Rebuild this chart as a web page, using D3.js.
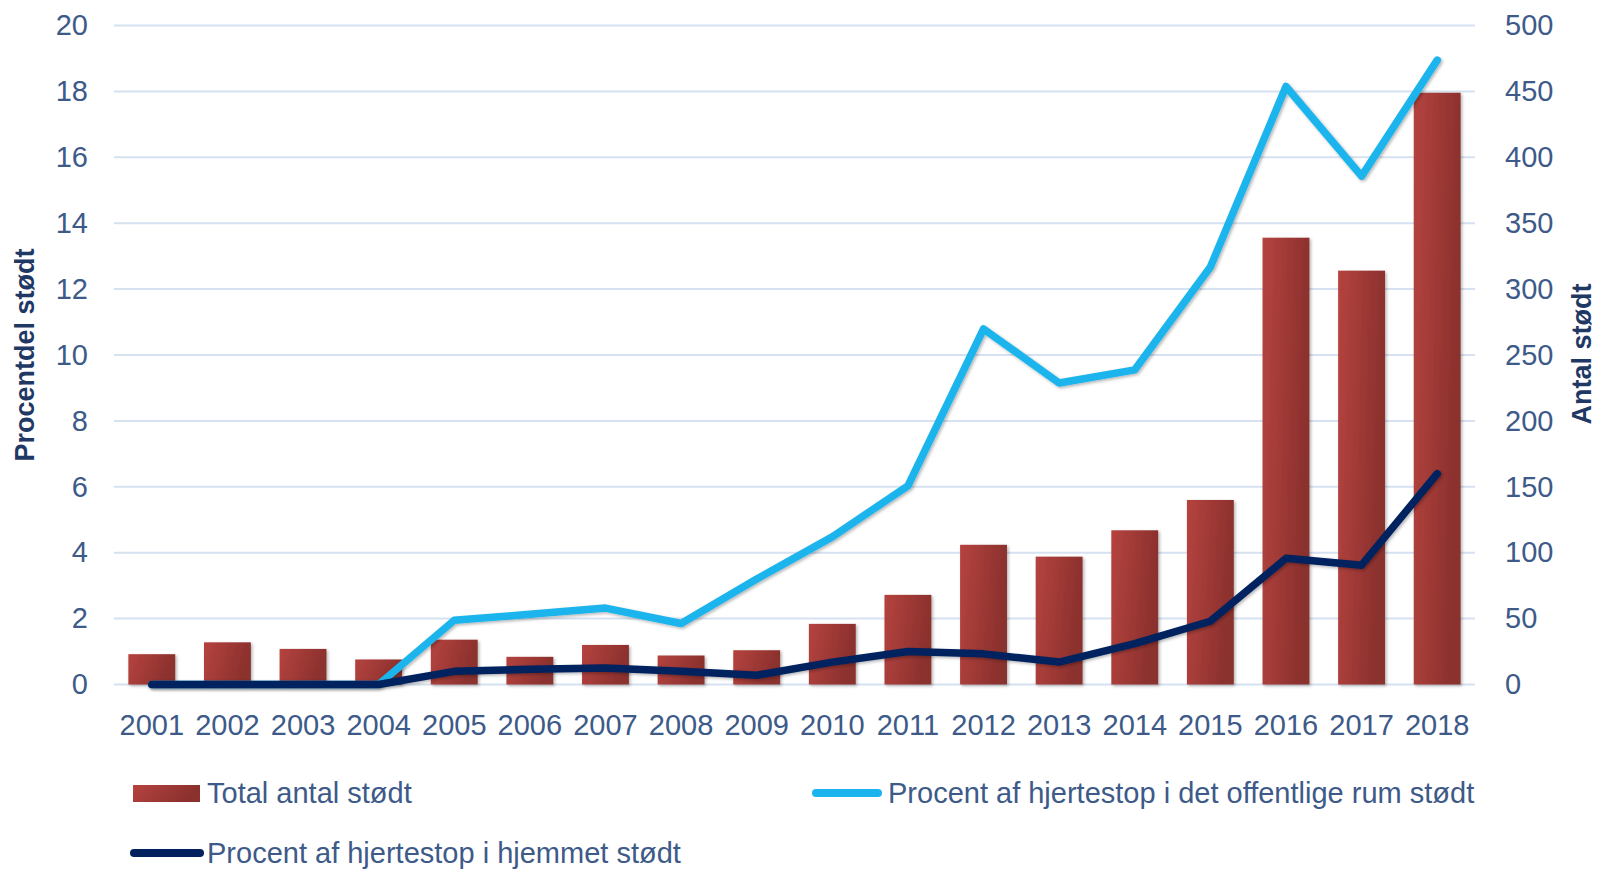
<!DOCTYPE html>
<html>
<head>
<meta charset="utf-8">
<script src="https://cdn.jsdelivr.net/npm/d3@7"></script>
<style>
  body { margin: 0; background: #fff; }
  svg text { font-family: "Liberation Sans", Arial, sans-serif; }
</style>
</head>
<body>
<svg id="chart" width="1597" height="869"></svg>
<script>
// data
var years = ["2001","2002","2003","2004","2005","2006","2007","2008","2009",
             "2010","2011","2012","2013","2014","2015","2016","2017","2018"];
var totalStodt = [23, 32, 27, 19, 34, 21, 30, 22, 26, 46, 68, 106, 97, 117, 140, 339, 314, 449];
var pctOffentlig = [0, 0, 0, 0, 1.95, 2.13, 2.32, 1.85, 3.2, 4.48, 6.03, 10.79, 9.15, 9.55, 12.67, 18.15, 15.43, 18.95];
var pctHjemmet = [0, 0, 0, 0, 0.4, 0.46, 0.5, 0.4, 0.28, 0.68, 1.0, 0.93, 0.68, 1.24, 1.92, 3.83, 3.62, 6.4];
var leftTicks = [0, 2, 4, 6, 8, 10, 12, 14, 16, 18, 20];
var rightTicks = [0, 50, 100, 150, 200, 250, 300, 350, 400, 450, 500];

var svg = d3.select("#chart");
var pLeft = 114, pRight = 1475, pTop = 25.5, pBottom = 684.5;
var textCol = "#3d5a88", titleCol = "#1f3864";

var x = d3.scaleBand().domain(years).range([pLeft, pRight]).paddingInner(0.38).paddingOuter(0.19);
var yL = d3.scaleLinear().domain([0, 20]).range([pBottom, pTop]);
var yR = d3.scaleLinear().domain([0, 500]).range([pBottom, pTop]);

var defs = svg.append("defs");
var grad = defs.append("linearGradient").attr("id", "barGrad")
    .attr("x1", "0").attr("y1", "0").attr("x2", "1").attr("y2", "0.25");
grad.append("stop").attr("offset", "0%").attr("stop-color", "#b5433f");
grad.append("stop").attr("offset", "100%").attr("stop-color", "#8a302d");
var sh = defs.append("filter").attr("id", "shadow").attr("x", "-20%").attr("y", "-20%").attr("width", "140%").attr("height", "140%");
sh.append("feDropShadow").attr("dx", 1.5).attr("dy", 1.5).attr("stdDeviation", 1.5)
  .attr("flood-color", "#000").attr("flood-opacity", 0.3);

// gridlines
svg.append("g").selectAll("line").data(leftTicks).enter().append("line")
    .attr("x1", pLeft).attr("x2", pRight)
    .attr("y1", function(d) { return yL(d); }).attr("y2", function(d) { return yL(d); })
    .attr("stroke", "#d6e1f1").attr("stroke-width", 2);

// left axis labels
var axL = svg.append("g").attr("transform", "translate(" + (pLeft - 26) + ",0)")
    .call(d3.axisLeft(yL).tickValues(leftTicks).tickSize(0).tickPadding(0));
axL.select(".domain").remove();
axL.selectAll("text").attr("fill", textCol).style("font-size", "29px");

// right axis labels
var axR = svg.append("g").attr("transform", "translate(" + (pRight + 30) + ",0)")
    .call(d3.axisRight(yR).tickValues(rightTicks).tickSize(0).tickPadding(0));
axR.select(".domain").remove();
axR.selectAll("text").attr("fill", textCol).style("font-size", "29px");

// x axis labels
var axX = svg.append("g").attr("transform", "translate(0," + (pBottom + 30) + ")")
    .call(d3.axisBottom(x).tickSize(0).tickPadding(0));
axX.select(".domain").remove();
axX.selectAll("text").attr("fill", textCol).style("font-size", "29px");

// bars
svg.append("g").selectAll("rect").data(years).enter().append("rect")
    .attr("x", function(d) { return x(d); })
    .attr("width", x.bandwidth())
    .attr("y", function(d, i) { return yR(totalStodt[i]); })
    .attr("height", function(d, i) { return pBottom - yR(totalStodt[i]); })
    .attr("fill", "url(#barGrad)")
    .attr("filter", "url(#shadow)");

var line = function(vals) {
  return d3.line()
    .x(function(d, i) { return x(years[i]) + x.bandwidth() / 2; })
    .y(function(d) { return yL(d); })(vals);
};

svg.append("path").attr("d", line(pctOffentlig))
    .attr("fill", "none").attr("stroke", "#1cb4ec").attr("stroke-width", 7.5)
    .attr("stroke-linejoin", "round").attr("stroke-linecap", "round")
    .attr("filter", "url(#shadow)");
svg.append("path").attr("d", line(pctHjemmet))
    .attr("fill", "none").attr("stroke", "#04215f").attr("stroke-width", 7.5)
    .attr("stroke-linejoin", "round").attr("stroke-linecap", "round")
    .attr("filter", "url(#shadow)");

// axis titles
svg.append("text").attr("transform", "translate(34," + ((pTop + pBottom) / 2) + ") rotate(-90)")
    .attr("text-anchor", "middle").attr("fill", titleCol)
    .style("font-size", "27px").style("font-weight", "bold").text("Procentdel stødt");
svg.append("text").attr("transform", "translate(1591,354) rotate(-90)")
    .attr("text-anchor", "middle").attr("fill", titleCol)
    .style("font-size", "27px").style("font-weight", "bold").text("Antal stødt");

// legend
var leg = svg.append("g");
leg.append("rect").attr("x", 133).attr("y", 785).attr("width", 67).attr("height", 17)
    .attr("fill", "url(#barGrad)");
leg.append("text").attr("x", 207).attr("y", 803).attr("fill", textCol)
    .style("font-size", "29px").text("Total antal stødt");

leg.append("line").attr("x1", 816).attr("x2", 878).attr("y1", 793).attr("y2", 793)
    .attr("stroke", "#1cb4ec").attr("stroke-width", 8).attr("stroke-linecap", "round");
leg.append("text").attr("x", 888).attr("y", 803).attr("fill", textCol)
    .style("font-size", "29px").text("Procent af hjertestop i det offentlige rum stødt");

leg.append("line").attr("x1", 134).attr("x2", 200).attr("y1", 853).attr("y2", 853)
    .attr("stroke", "#04215f").attr("stroke-width", 8).attr("stroke-linecap", "round");
leg.append("text").attr("x", 207).attr("y", 863).attr("fill", textCol)
    .style("font-size", "29px").text("Procent af hjertestop i hjemmet stødt");
</script>
</body>
</html>
